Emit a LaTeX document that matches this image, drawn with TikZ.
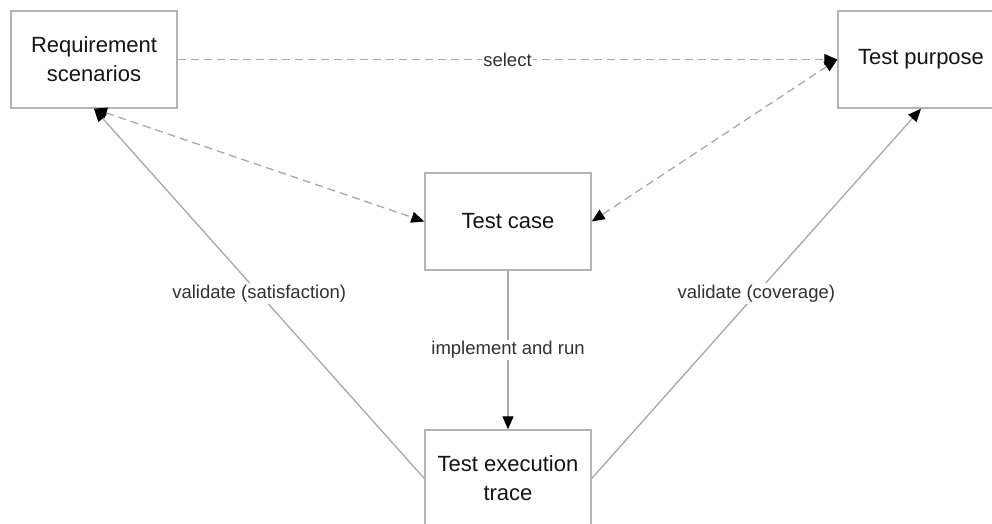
\documentclass[tikz,border=0pt]{standalone}
\usepackage{fontspec}
\setmainfont{Liberation Sans}
\usetikzlibrary{arrows.meta}
\definecolor{boxline}{HTML}{B4B4B4}
\definecolor{linkline}{HTML}{A8A8A8}
\definecolor{boxtext}{HTML}{141414}
\definecolor{labeltext}{HTML}{303030}
\tikzset{
  artefact/.style={draw=boxline, line width=1.4pt, fill=white,
    minimum width=166pt, minimum height=97pt, inner sep=0pt,
    align=center, text=boxtext, font=\fontsize{22}{29}\selectfont},
  flow/.style={draw=linkline, line width=1.3pt, -{Triangle[length=13pt,width=11pt,color=black]}},
  twoway/.style={draw=linkline, line width=1.3pt, dash pattern=on 8pt off 5pt,
    {Triangle[length=13pt,width=11pt,color=black]}-{Triangle[length=13pt,width=11pt,color=black]}},
  oneway/.style={draw=linkline, line width=1.3pt, dash pattern=on 8pt off 5pt,
    -{Triangle[length=13pt,width=11pt,color=black]}},
  tag/.style={fill=white, inner sep=1.5pt, text=labeltext,
    font=\fontsize{18.5}{22}\selectfont}
}
\begin{document}
\begin{tikzpicture}[x=1pt, y=-1pt]
  \useasboundingbox[fill=white] (0,0) rectangle (992,524);
  \begin{scope}
    \clip (0,0) rectangle (992,524);
    \node[artefact] (req)  at (94,59.5)   {Requirement\\scenarios};
    \node[artefact] (tp)   at (921,59.5)  {Test purpose};
    \node[artefact] (tc)   at (508,221.5) {Test case};
    \node[artefact] (trace) at (508,478.5) {Test execution\\trace};

    \draw[oneway] (req.east) -- node[tag] {select} (tp.west);
    \draw[twoway] (req.south) -- (tc.west);
    \draw[twoway] (tp.west) -- (tc.east);
    \draw[flow] (tc.south) -- node[tag, pos=0.5] {implement and run} (trace.north);
    \draw[flow] (trace.west) -- node[tag] {validate (satisfaction)} (req.south);
    \draw[flow] (trace.east) -- node[tag] {validate (coverage)} (tp.south);
  \end{scope}
\end{tikzpicture}
\end{document}
